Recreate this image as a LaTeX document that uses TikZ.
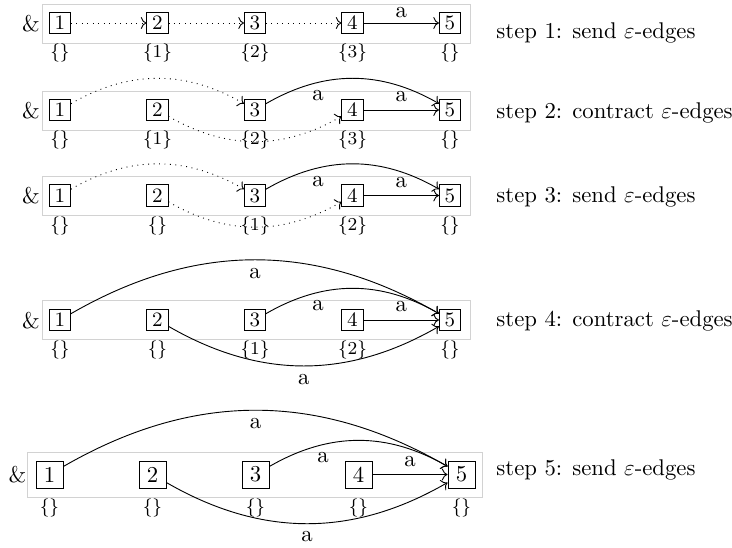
\documentclass[tikz,border=0pt]{standalone}
\usetikzlibrary{arrows.meta}
\begin{document}
\begin{tikzpicture}[x=0.44pt,y=-0.44pt,
  bx/.style={draw, font=\small, inner sep=0pt, minimum size=9.3pt},
  bxl/.style={draw, font=\normalsize, inner sep=0pt, minimum size=11.9pt},
  lb/.style={font=\footnotesize, inner sep=0pt},
  frame/.style={draw=gray!35, line width=0.4pt},
  amp/.style={inner sep=0pt},
  steptxt/.style={anchor=west, inner sep=0pt},
  eps/.style={->, dotted},
  lab/.style={font=\normalsize}]
\useasboundingbox (0,0) rectangle (732,548);

% ---------- row 1 ----------
\draw[frame] (42,4) rectangle (470,43);
\node[amp] (r1a) at (31,23.5) {\&};
\node[bx] (r1n1) at (60,23) {1};
\node[bx] (r1n2) at (157.5,23) {2};
\node[bx] (r1n3) at (255,23) {3};
\node[bx] (r1n4) at (352.5,23) {4};
\node[bx] (r1n5) at (450,23) {5};
\node[lb] (r1l1) at (60,53) {$\{\}$};
\node[lb] (r1l2) at (157.5,53) {$\{1\}$};
\node[lb] (r1l3) at (255,53) {$\{2\}$};
\node[lb] (r1l4) at (352.5,53) {$\{3\}$};
\node[lb] (r1l5) at (450,53) {$\{\}$};
\draw[eps] (r1n1) -- (r1n2);
\draw[eps] (r1n2) -- (r1n3);
\draw[eps] (r1n3) -- (r1n4);
\draw[->] (r1n4) -- node[above, lab, inner sep=2.2pt] {a} (r1n5);
\node[steptxt] (t1) at (496,33) {step 1: send $\varepsilon$-edges};

% ---------- row 2 ----------
\draw[frame] (42,91) rectangle (470,130);
\node[amp] (r2a) at (31,110.5) {\&};
\node[bx] (r2n1) at (60,110) {1};
\node[bx] (r2n2) at (157.5,110) {2};
\node[bx] (r2n3) at (255,110) {3};
\node[bx] (r2n4) at (352.5,110) {4};
\node[bx] (r2n5) at (450,110) {5};
\node[lb] (r2l1) at (60,140) {$\{\}$};
\node[lb] (r2l2) at (157.5,140) {$\{1\}$};
\node[lb] (r2l3) at (255,140) {$\{2\}$};
\node[lb] (r2l4) at (352.5,140) {$\{3\}$};
\node[lb] (r2l5) at (450,140) {$\{\}$};
\draw[eps] (r2n1) to[bend left=30] (r2n3);
\draw[eps] (r2n2) to[bend right=30] (r2n4);
\draw[->] (r2n3) to[bend left=30] node[pos=0.3, below, lab] {a} (r2n5);
\draw[->] (r2n4) -- node[above, lab] {a} (r2n5);
\node[steptxt] (t2) at (496,113) {step 2: contract $\varepsilon$-edges};

% ---------- row 3 ----------
\draw[frame] (42,176.5) rectangle (470,215.5);
\node[amp] (r3a) at (31,196) {\&};
\node[bx] (r3n1) at (60,195.5) {1};
\node[bx] (r3n2) at (157.5,195.5) {2};
\node[bx] (r3n3) at (255,195.5) {3};
\node[bx] (r3n4) at (352.5,195.5) {4};
\node[bx] (r3n5) at (450,195.5) {5};
\node[lb] (r3l1) at (60,225.5) {$\{\}$};
\node[lb] (r3l2) at (157.5,225.5) {$\{\}$};
\node[lb] (r3l3) at (255,225.5) {$\{1\}$};
\node[lb] (r3l4) at (352.5,225.5) {$\{2\}$};
\node[lb] (r3l5) at (450,225.5) {$\{\}$};
\draw[eps] (r3n1) to[bend left=30] (r3n3);
\draw[eps] (r3n2) to[bend right=30] (r3n4);
\draw[->] (r3n3) to[bend left=30] node[pos=0.3, below, lab] {a} (r3n5);
\draw[->] (r3n4) -- node[above, lab] {a} (r3n5);
\node[steptxt] (t3) at (496,197) {step 3: send $\varepsilon$-edges};

% ---------- row 4 ----------
\draw[frame] (42,300.5) rectangle (470,339.5);
\node[amp] (r4a) at (31,320.5) {\&};
\node[bx] (r4n1) at (60,320) {1};
\node[bx] (r4n2) at (157.5,320) {2};
\node[bx] (r4n3) at (255,320) {3};
\node[bx] (r4n4) at (352.5,320) {4};
\node[bx] (r4n5) at (450,320) {5};
\node[lb] (r4l1) at (60,350) {$\{\}$};
\node[lb] (r4l2) at (157.5,350) {$\{\}$};
\node[lb] (r4l3) at (255,350) {$\{1\}$};
\node[lb] (r4l4) at (352.5,350) {$\{2\}$};
\node[lb] (r4l5) at (450,350) {$\{\}$};
\draw[->] (r4n1) to[bend left=30] node[below, lab] {a} (r4n5);
\draw[->] (r4n3) to[bend left=30] node[pos=0.3, below, lab] {a} (r4n5);
\draw[->] (r4n4) -- node[above, lab] {a} (r4n5);
\draw[->] (r4n2) to[bend right=30] node[below, lab] {a} (r4n5);
\node[steptxt] (t4) at (496,321) {step 4: contract $\varepsilon$-edges};

% ---------- row 5 ----------
\draw[frame] (27,452) rectangle (482,497);
\node[amp] (r5a) at (17.5,475) {\&};
\node[bxl] (r5n1) at (49.5,474.5) {1};
\node[bxl] (r5n2) at (152.5,474.5) {2};
\node[bxl] (r5n3) at (255.5,474.5) {3};
\node[bxl] (r5n4) at (358.5,474.5) {4};
\node[bxl] (r5n5) at (461.5,474.5) {5};
\node[lb] (r5l1) at (49.5,508) {$\{\}$};
\node[lb] (r5l2) at (152.5,508) {$\{\}$};
\node[lb] (r5l3) at (255.5,508) {$\{\}$};
\node[lb] (r5l4) at (358.5,508) {$\{\}$};
\node[lb] (r5l5) at (461.5,508) {$\{\}$};
\draw[->] (r5n1) to[bend left=30] node[below, lab] {a} (r5n5);
\draw[->] (r5n3) to[bend left=30] node[pos=0.3, below, lab] {a} (r5n5);
\draw[->] (r5n4) -- node[above, lab] {a} (r5n5);
\draw[->] (r5n2) to[bend right=30] node[below, lab] {a} (r5n5);
\node[steptxt] (t5) at (496,470) {step 5: send $\varepsilon$-edges};
\end{tikzpicture}
\end{document}
